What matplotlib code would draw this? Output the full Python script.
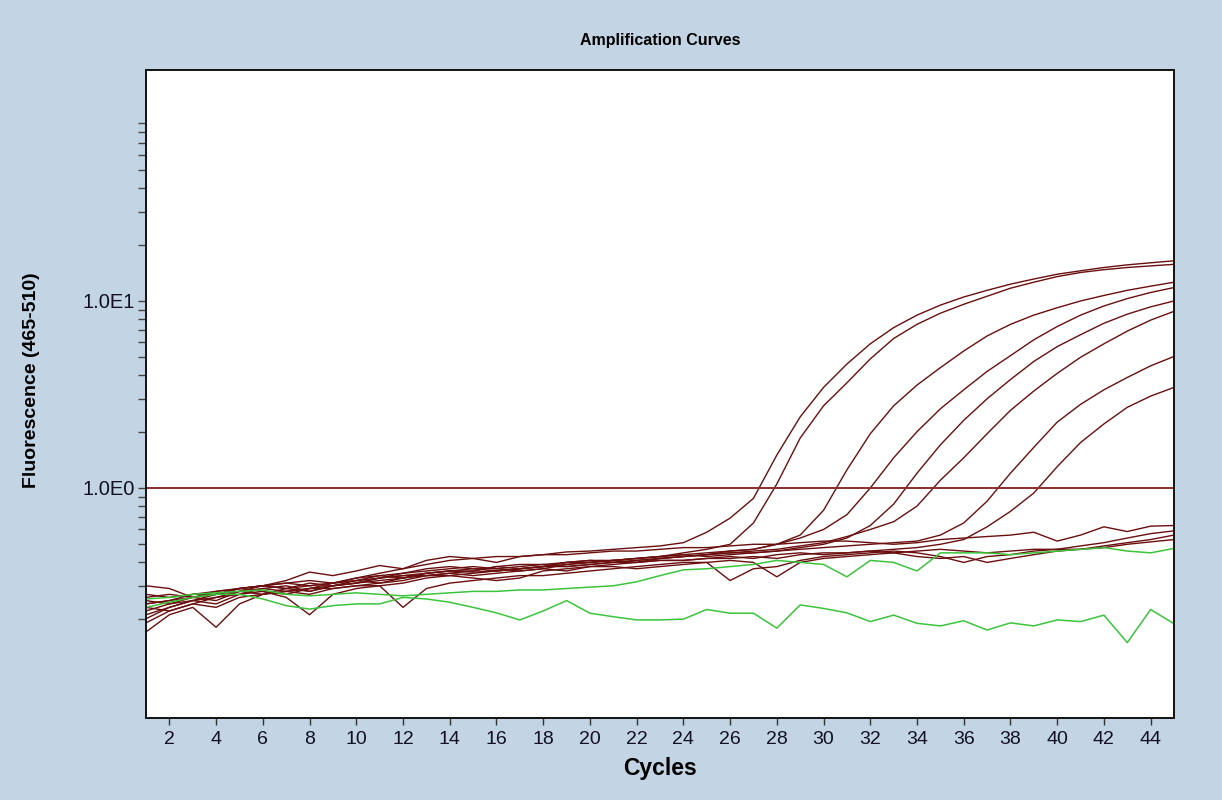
import numpy as np
import matplotlib
matplotlib.use("Agg")
import matplotlib.pyplot as plt
from matplotlib.ticker import FixedLocator, NullFormatter

# ------------------------------------------------------------
# data: fluorescence per cycle (1..45)
cycles = list(range(1, 46))

# dark red samples that amplify (Ct ~27 .. ~39)
amp_a = [0.27, 0.26, 0.27, 0.28, 0.29, 0.30, 0.32, 0.355, 0.34, 0.36,
         0.385, 0.37, 0.41, 0.43, 0.42, 0.40, 0.43, 0.44, 0.455, 0.46,
         0.47, 0.48, 0.49, 0.51, 0.58, 0.69, 0.88, 1.5, 2.4, 3.45,
         4.6, 5.9, 7.2, 8.4, 9.5, 10.5, 11.4, 12.3, 13.1, 13.9,
         14.5, 15.1, 15.6, 16.0, 16.4]
amp_b = [0.25, 0.24, 0.26, 0.27, 0.29, 0.30, 0.29, 0.30, 0.31, 0.32,
         0.33, 0.34, 0.35, 0.36, 0.355, 0.36, 0.37, 0.38, 0.39, 0.40,
         0.41, 0.42, 0.43, 0.45, 0.47, 0.50, 0.65, 1.05, 1.85, 2.75,
         3.65, 4.9, 6.3, 7.5, 8.6, 9.6, 10.6, 11.7, 12.6, 13.5,
         14.2, 14.7, 15.1, 15.4, 15.7]
amp_c = [0.22, 0.24, 0.25, 0.26, 0.28, 0.29, 0.28, 0.29, 0.31, 0.32,
         0.31, 0.33, 0.35, 0.36, 0.37, 0.37, 0.38, 0.39, 0.40, 0.40,
         0.41, 0.42, 0.43, 0.44, 0.45, 0.46, 0.47, 0.50, 0.56, 0.76,
         1.25, 1.95, 2.75, 3.55, 4.4, 5.4, 6.5, 7.5, 8.4, 9.2,
         10.0, 10.7, 11.4, 12.0, 12.6]
amp_d = [0.23, 0.22, 0.24, 0.26, 0.27, 0.29, 0.30, 0.28, 0.30, 0.31,
         0.33, 0.34, 0.34, 0.35, 0.36, 0.38, 0.37, 0.38, 0.40, 0.41,
         0.40, 0.41, 0.42, 0.43, 0.44, 0.46, 0.47, 0.50, 0.54, 0.60,
         0.72, 1.0, 1.45, 2.0, 2.65, 3.35, 4.2, 5.1, 6.2, 7.3,
         8.4, 9.4, 10.3, 11.1, 11.8]
amp_e = [0.21, 0.23, 0.25, 0.27, 0.28, 0.27, 0.29, 0.31, 0.30, 0.31,
         0.33, 0.35, 0.36, 0.37, 0.38, 0.37, 0.36, 0.37, 0.39, 0.40,
         0.41, 0.40, 0.42, 0.43, 0.44, 0.45, 0.45, 0.46, 0.48, 0.50,
         0.54, 0.63, 0.82, 1.2, 1.7, 2.3, 3.0, 3.8, 4.75, 5.7,
         6.6, 7.6, 8.5, 9.3, 10.0]
amp_f = [0.24, 0.25, 0.26, 0.28, 0.29, 0.30, 0.29, 0.28, 0.30, 0.32,
         0.34, 0.33, 0.35, 0.36, 0.36, 0.38, 0.39, 0.39, 0.38, 0.39,
         0.40, 0.41, 0.42, 0.43, 0.44, 0.45, 0.46, 0.47, 0.49, 0.51,
         0.55, 0.60, 0.66, 0.80, 1.1, 1.45, 1.95, 2.6, 3.3, 4.1,
         5.0, 5.9, 6.9, 7.9, 8.8]
amp_g = [0.26, 0.27, 0.26, 0.25, 0.28, 0.30, 0.31, 0.32, 0.31, 0.33,
         0.34, 0.35, 0.37, 0.38, 0.37, 0.36, 0.37, 0.38, 0.40, 0.41,
         0.41, 0.42, 0.43, 0.44, 0.43, 0.44, 0.45, 0.46, 0.47, 0.48,
         0.49, 0.50, 0.51, 0.52, 0.56, 0.65, 0.85, 1.2, 1.65, 2.25,
         2.8, 3.35, 3.9, 4.5, 5.05]
amp_h = [0.19, 0.22, 0.24, 0.23, 0.26, 0.27, 0.28, 0.27, 0.29, 0.30,
         0.31, 0.32, 0.34, 0.35, 0.34, 0.35, 0.36, 0.37, 0.36, 0.38,
         0.39, 0.40, 0.41, 0.41, 0.42, 0.43, 0.42, 0.44, 0.45, 0.44,
         0.45, 0.46, 0.47, 0.48, 0.50, 0.53, 0.62, 0.75, 0.94, 1.3,
         1.75, 2.2, 2.7, 3.1, 3.45]

# dark red samples that stay at baseline
neg_i = [0.24, 0.25, 0.27, 0.27, 0.29, 0.30, 0.31, 0.30, 0.31, 0.33,
         0.35, 0.37, 0.39, 0.41, 0.42, 0.43, 0.43, 0.44, 0.44, 0.45,
         0.46, 0.46, 0.47, 0.48, 0.48, 0.49, 0.50, 0.50, 0.51, 0.52,
         0.52, 0.51, 0.50, 0.51, 0.53, 0.54, 0.55, 0.56, 0.58, 0.52,
         0.56, 0.62, 0.585, 0.625, 0.63]
neg_j = [0.30, 0.29, 0.26, 0.27, 0.29, 0.28, 0.27, 0.29, 0.30, 0.31,
         0.32, 0.33, 0.34, 0.34, 0.35, 0.36, 0.37, 0.38, 0.38, 0.39,
         0.40, 0.40, 0.41, 0.41, 0.42, 0.42, 0.43, 0.42, 0.44, 0.45,
         0.45, 0.46, 0.45, 0.46, 0.47, 0.46, 0.45, 0.46, 0.47, 0.47,
         0.49, 0.51, 0.54, 0.57, 0.59]
neg_k = [0.20, 0.23, 0.25, 0.24, 0.27, 0.28, 0.26, 0.21, 0.27, 0.29,
         0.30, 0.31, 0.33, 0.34, 0.33, 0.32, 0.33, 0.36, 0.37, 0.38,
         0.38, 0.37, 0.38, 0.39, 0.40, 0.32, 0.37, 0.38, 0.41, 0.43,
         0.44, 0.45, 0.46, 0.45, 0.43, 0.40, 0.43, 0.44, 0.46, 0.47,
         0.47, 0.49, 0.51, 0.53, 0.56]
neg_l = [0.17, 0.21, 0.23, 0.18, 0.24, 0.27, 0.28, 0.29, 0.29, 0.30,
         0.30, 0.23, 0.29, 0.31, 0.32, 0.33, 0.34, 0.34, 0.35, 0.36,
         0.37, 0.38, 0.39, 0.40, 0.40, 0.41, 0.40, 0.335, 0.40, 0.42,
         0.43, 0.44, 0.45, 0.43, 0.42, 0.43, 0.40, 0.42, 0.44, 0.46,
         0.47, 0.48, 0.50, 0.515, 0.53]

# green controls
green_up = [0.255, 0.26, 0.27, 0.275, 0.28, 0.285, 0.27, 0.265, 0.27, 0.275,
            0.27, 0.265, 0.27, 0.275, 0.28, 0.28, 0.285, 0.285, 0.29, 0.295,
            0.30, 0.315, 0.34, 0.365, 0.37, 0.38, 0.39, 0.41, 0.40, 0.39,
            0.335, 0.41, 0.40, 0.36, 0.45, 0.45, 0.45, 0.44, 0.45, 0.46,
            0.47, 0.48, 0.46, 0.45, 0.475]
green_low = [0.23, 0.245, 0.26, 0.27, 0.27, 0.255, 0.235, 0.225, 0.235, 0.24,
             0.24, 0.26, 0.255, 0.245, 0.23, 0.215, 0.197, 0.22, 0.25, 0.214,
             0.205, 0.197, 0.197, 0.199, 0.224, 0.214, 0.214, 0.178, 0.237, 0.227,
             0.215, 0.193, 0.209, 0.189, 0.183, 0.195, 0.174, 0.19, 0.183, 0.197,
             0.193, 0.209, 0.149, 0.224, 0.188]

threshold = 1.0

x_ticks = list(range(2, 46, 2))
y_major = [1.0, 10.0]
y_major_labels = ["1.0E0", "1.0E1"]
y_minor = [0.2, 0.3, 0.4, 0.5, 0.6, 0.7, 0.8, 0.9,
           2, 3, 4, 5, 6, 7, 8, 9,
           20, 30, 40, 50, 60, 70, 80, 90]

# ------------------------------------------------------------
bg = "#c3d4e4"
dark = "#6a0e0e"
green = "#3cc43c"
sans = ["Liberation Sans", "DejaVu Sans"]

fig = plt.figure(figsize=(12.22, 8.0), dpi=100, facecolor=bg)
ax = fig.add_axes([146 / 1222, 1 - 718 / 800, (1174 - 146) / 1222, (718 - 70) / 800])
ax.set_facecolor("white")

for ys in [amp_a, amp_b, amp_c, amp_d, amp_e, amp_f, amp_g, amp_h,
           neg_i, neg_j, neg_k, neg_l]:
    ax.plot(cycles, ys, color=dark, lw=1.0)
for ys in [green_up, green_low]:
    ax.plot(cycles, ys, color=green, lw=1.1)

ax.axhline(threshold, color="#8a2e2e", lw=1.4)

ax.set_yscale("log")
ax.set_xlim(1, 45)
ax.set_ylim(0.0589, 171.8)

ax.xaxis.set_major_locator(FixedLocator(x_ticks))
ax.set_xticklabels([str(t) for t in x_ticks])
ax.yaxis.set_major_locator(FixedLocator(y_major))
ax.set_yticklabels(y_major_labels)
ax.yaxis.set_minor_locator(FixedLocator(y_minor))
ax.yaxis.set_minor_formatter(NullFormatter())

ax.tick_params(axis="x", which="major", direction="out", length=5, width=1,
               color="#333333", pad=4, labelsize=14, labelcolor="#111122")
ax.tick_params(axis="y", which="both", direction="out", length=6, width=1,
               color="#444444", pad=2, labelsize=14.5, labelcolor="#111122")
for lab in ax.get_xticklabels() + ax.get_yticklabels():
    lab.set_family(sans)

for s in ax.spines.values():
    s.set_color("#111111")
    s.set_linewidth(1.4)

fig.text(660 / 1222, 1 - 40 / 800, "Amplification Curves", ha="center", va="center",
         fontsize=11.5, fontweight="bold", family=sans)
fig.text(660 / 1222, 1 - 768 / 800, "Cycles", ha="center", va="center",
         fontsize=16.5, fontweight="bold", family=sans)
fig.text(32 / 1222, 1 - 380 / 800, "Fluorescence (465-510)", ha="center", va="center",
         rotation=90, fontsize=14, fontweight="bold", family=sans)

fig.savefig("out.png", dpi=100, facecolor=bg)
